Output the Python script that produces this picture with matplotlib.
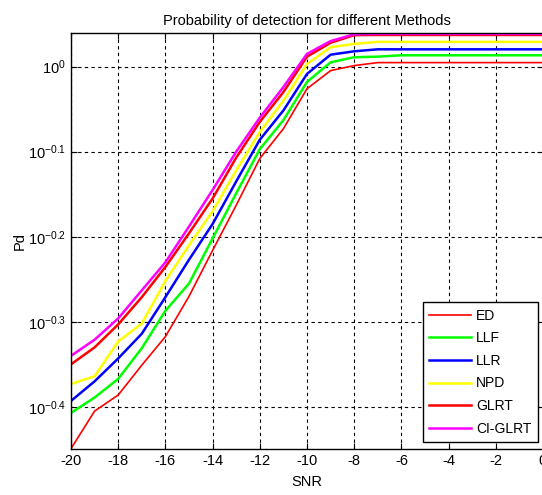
import numpy as np
import matplotlib
matplotlib.use("Agg")
import matplotlib.pyplot as plt
from matplotlib.ticker import FixedLocator, NullLocator

plt.rcParams['font.family'] = ['Liberation Sans', 'DejaVu Sans']
plt.rcParams['mathtext.fontset'] = 'custom'
plt.rcParams['mathtext.rm'] = 'Liberation Sans'
plt.rcParams['mathtext.it'] = 'Liberation Sans'
plt.rcParams['axes.unicode_minus'] = False

# Data ------------------------------------------
snr = list(range(-20, 1))

pd_ed = [0.3556, 0.3936, 0.4111, 0.4457, 0.4815, 0.5370, 0.6081, 0.6871, 0.7798, 0.8453, 0.9419,
         0.9892, 1.0028, 1.0109, 1.0109, 1.0109, 1.0109, 1.0109, 1.0109, 1.0109, 1.0109]
pd_llf = [0.3917, 0.4083, 0.4295, 0.4667, 0.5164, 0.5559, 0.6281, 0.7096, 0.7998, 0.8650, 0.9594,
          1.0116, 1.0257, 1.0273, 1.0311, 1.0311, 1.0311, 1.0311, 1.0311, 1.0311, 1.0311]
pd_llr = [0.4046, 0.4266, 0.4539, 0.4853, 0.5358, 0.5929, 0.6531, 0.7328, 0.8204, 0.8880, 0.9804,
          1.0328, 1.0423, 1.0479, 1.0479, 1.0479, 1.0479, 1.0479, 1.0479, 1.0479, 1.0479]
pd_npd = [0.4236, 0.4325, 0.4753, 0.4989, 0.5598, 0.6166, 0.6761, 0.7551, 0.8375, 0.9120, 1.0069,
          1.0537, 1.0634, 1.0691, 1.0691, 1.0691, 1.0691, 1.0691, 1.0691, 1.0691, 1.0691]
pd_glrt = [0.4467, 0.4677, 0.4977, 0.5358, 0.5814, 0.6368, 0.6998, 0.7816, 0.8610, 0.9333, 1.0273,
           1.0666, 1.0889, 1.0894, 1.0894, 1.0894, 1.0894, 1.0894, 1.0894, 1.0894, 1.0894]
pd_ciglrt = [0.4571, 0.4775, 0.5058, 0.5458, 0.5888, 0.6486, 0.7161, 0.7943, 0.8710, 0.9462, 1.0351,
             1.0715, 1.0914, 1.0924, 1.0924, 1.0924, 1.0924, 1.0924, 1.0924, 1.0924, 1.0924]

labels = ['ED', 'LLF', 'LLR', 'NPD', 'GLRT', 'CI-GLRT']
ytick_exp = [0, -0.1, -0.2, -0.3, -0.4]
xticks = list(range(-20, 1, 2))

# Figure ------------------------------------------
fig = plt.figure(figsize=(5.42, 4.95), dpi=100)
ax = fig.add_axes([71/542, 1 - 449/495, 472/542, 416/495])

ax.plot(snr, pd_ed, color='#ff0000', lw=1.2, label=labels[0])
ax.plot(snr, pd_llf, color='#00ff00', lw=1.8, label=labels[1])
ax.plot(snr, pd_llr, color='#0000ff', lw=1.8, label=labels[2])
ax.plot(snr, pd_npd, color='#ffff00', lw=1.8, label=labels[3])
ax.plot(snr, pd_glrt, color='#ff0000', lw=1.8, label=labels[4])
ax.plot(snr, pd_ciglrt, color='#ff00ff', lw=1.8, label=labels[5])

ax.set_yscale('log')
ax.set_xlim(-20, 0)
ax.set_ylim(10**-0.4495, 10**0.0395)

ax.yaxis.set_major_locator(FixedLocator([10**e for e in ytick_exp]))
ax.yaxis.set_minor_locator(NullLocator())
ax.set_yticklabels(['$10^{%g}$' % e for e in ytick_exp])
ax.set_xticks(xticks)

ax.grid(True, which='major', color='black', linestyle=(0, (3, 3)), lw=0.8)
ax.tick_params(direction='in', top=True, right=True, labelsize=10.5, length=4, color='black')
for s in ax.spines.values():
    s.set_linewidth(1.0)

ax.set_title('Probability of detection for different Methods', fontsize=10.5, pad=6)
ax.set_xlabel('SNR', fontsize=10.5, labelpad=5)
ax.set_ylabel('Pd', fontsize=10.5, labelpad=1)

leg = ax.legend(loc='lower right', bbox_to_anchor=(0.989, 0.017), borderaxespad=0,
                fontsize=10, fancybox=False, edgecolor='black', framealpha=1,
                handlelength=3.0, labelspacing=0.62, borderpad=0.45, handletextpad=0.4)
leg.get_frame().set_linewidth(1.0)

fig.savefig('out.png', dpi=100)
